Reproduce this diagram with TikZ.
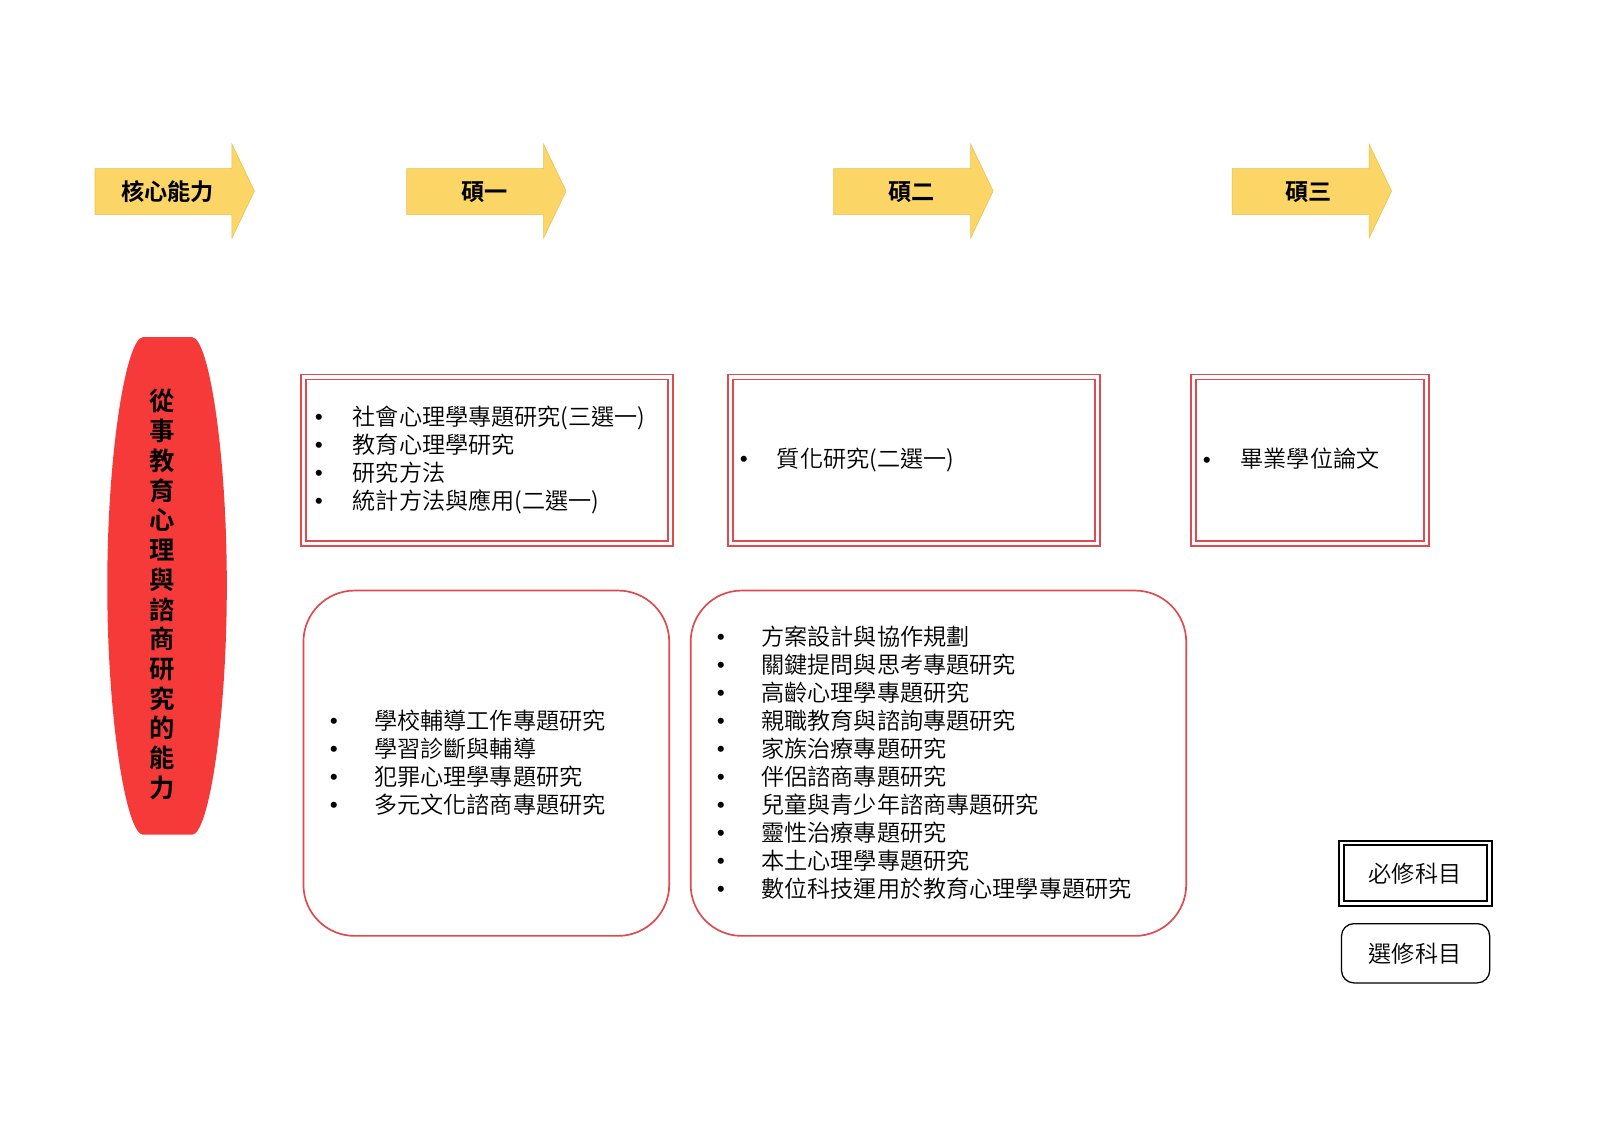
\documentclass[tikz,border=0pt]{standalone}
\usepackage{fontspec}
\setmainfont{Noto Sans CJK TC}[UprightFont=* DemiLight,BoldFont=* Bold]
\usetikzlibrary{positioning}
\definecolor{arrowfill}{HTML}{FBD565}
\definecolor{arrowedge}{HTML}{E8C050}
\definecolor{boxred}{HTML}{E04A4E}
\definecolor{ovalred}{HTML}{F63A3A}
\tikzset{
  % 年級箭頭
  stage/.style={fill=arrowfill,draw=arrowedge,line width=.4pt},
  stagelbl/.style={font=\fontsize{16.5}{19}\selectfont\bfseries,inner sep=0pt},
  % 必修 / 選修 外框
  reqbox/.style={draw=boxred,double=white,line width=1.3pt,double distance=2.3pt},
  optbox/.style={draw=boxred,line width=1.2pt,rounded corners=1.28cm},
  % 課程清單
  list/.style={font=\fontsize{16.45}{19.97}\selectfont,align=left,anchor=west,inner sep=0pt},
  goal/.style={font=\fontsize{18}{21.15}\selectfont\bfseries,align=center,inner sep=0pt},
  keybox/.style={draw=black,double=white,line width=1.4pt,double distance=1.9pt},
  keyopt/.style={draw=black,line width=.9pt,rounded corners=.31cm}
}
\newcommand{\li}[2][1.2cm]{\makebox[#1][l]{\raisebox{-2.2pt}{\fontsize{21}{20}\selectfont •}}#2}

\begin{document}
\begin{tikzpicture}[x=0.02554cm,y=-0.02554cm]
  \useasboundingbox (0,0) rectangle (1566,1107);

  %--- stage arrows
  \foreach \x/\dx/\name/\txt in {93/71/core/核心能力,398/76/y1/碩一,816/76/y2/碩二,1206/75/y3/碩三}{
    \draw[stage] (\x,165) -- (\x+134,165) -- (\x+134,141) -- (\x+156,187)
      -- (\x+134,233) -- (\x+134,210) -- (\x,210) -- cycle;
    \node[stagelbl] (\name) at (\x+\dx,188) {\txt};
  }

  %--- core ability
  \fill[ovalred] (140,330) -- (188,330) .. controls (204,330) and (222,440) .. (222,573)
    .. controls (222,706) and (204,817) .. (188,817) -- (140,817)
    .. controls (124,817) and (105,706) .. (105,573)
    .. controls (105,440) and (124,330) .. (140,330) -- cycle;
  \node[goal] (ability) at (159,582) {從\\事\\教\\育\\心\\理\\與\\諮\\商\\研\\究\\的\\能\\力};

  %--- required courses
  \draw[reqbox] (297,369) rectangle (656,532);
  \draw[reqbox] (715,369) rectangle (1074,532);
  \draw[reqbox] (1168,369) rectangle (1396,532);
  \node[list] (req1) at (298,450) {\li{社會心理學專題研究(三選一)}\\ \li{教育心理學研究}\\
    \li{研究方法}\\ \li{統計方法與應用(二選一)}};
  \node[list] (req2) at (714,450) {\li[1.18cm]{質化研究(二選一)}};
  \node[list] (req3) at (1167,450) {\li{畢業學位論文}};

  %--- elective courses
  \draw[optbox] (297,578) rectangle (655,916);
  \draw[optbox] (676,578) rectangle (1161,916);
  \node[list] (opt1) at (312,747) {\li[1.38cm]{學校輔導工作專題研究}\\ \li[1.38cm]{學習診斷與輔導}\\
    \li[1.38cm]{犯罪心理學專題研究}\\ \li[1.38cm]{多元文化諮商專題研究}};
  \node[list] (opt2) at (691,747) {\li[1.38cm]{方案設計與協作規劃}\\ \li[1.38cm]{關鍵提問與思考專題研究}\\
    \li[1.38cm]{高齡心理學專題研究}\\ \li[1.38cm]{親職教育與諮詢專題研究}\\
    \li[1.38cm]{家族治療專題研究}\\ \li[1.38cm]{伴侶諮商專題研究}\\
    \li[1.38cm]{兒童與青少年諮商專題研究}\\ \li[1.38cm]{靈性治療專題研究}\\
    \li[1.38cm]{本土心理學專題研究}\\ \li[1.38cm]{數位科技運用於教育心理學專題研究}};

  %--- legend
  \draw[keybox] (1313,825) rectangle (1458,884);
  \draw[keyopt] (1313,904) rectangle (1458,962);
  \node[list,anchor=center] (keyreq) at (1385,855) {必修科目};
  \node[list,anchor=center] (keyopt) at (1385,933) {選修科目};
\end{tikzpicture}
\end{document}
